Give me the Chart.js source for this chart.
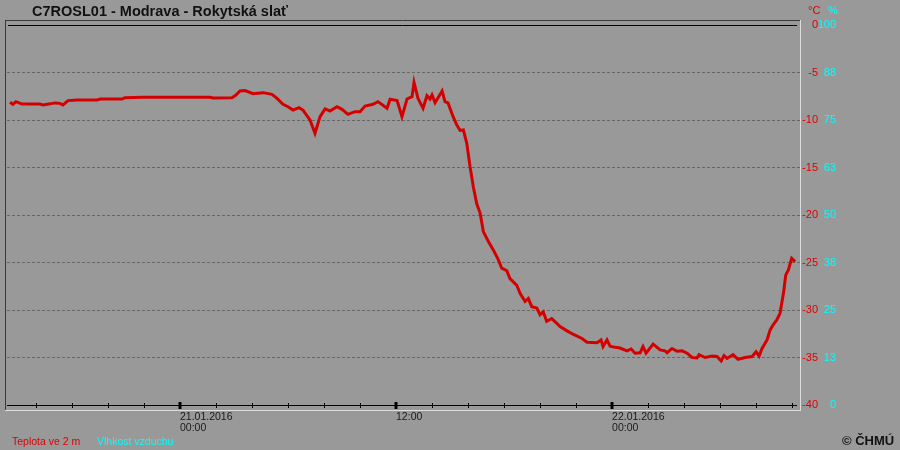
<!DOCTYPE html>
<html>
<head>
<meta charset="utf-8">
<script src="https://cdn.jsdelivr.net/npm/chart.js@4.4.1/dist/chart.umd.min.js"></script>
<style>
  body { margin: 0; background: #999999; }
  #wrap { position: relative; width: 900px; height: 450px; background: #999999; font-family: 'Liberation Sans', Arial, sans-serif; }
  #chart { position: absolute; left: 0; top: 0; }
  .txt { position: absolute; white-space: nowrap; line-height: 1; }
</style>
</head>
<body>
<div id="wrap">
  <canvas id="chart" width="900" height="450"></canvas>
  <div class="txt" style="left:32px; top:4px; font-size:14.5px; font-weight:bold; color:#111;">C7ROSL01 - Modrava - Rokytská slať</div>
  <div class="txt" style="left:808px; top:5px; font-size:11px; color:#e00000;">°C</div>
  <div class="txt" style="left:828px; top:5px; font-size:11px; color:#00ffff;">%</div>
  <div class="txt" style="left:12px; top:436px; font-size:10.5px; color:#e00000;">Teplota ve 2 m</div>
  <div class="txt" style="left:97px; top:436px; font-size:10.5px; color:#00ffff;">Vlhkost vzduchu</div>
  <div class="txt" style="left:842px; top:434px; font-size:13px; font-weight:bold; color:#111;">© ČHMÚ</div>
</div>
<script>
// hours relative to 21.01.2016 00:00
const hours = [
  -9.44, -9.28, -9.11, -8.78, -8.33, -7.78, -7.61, -7.22, -6.94, -6.67,
  -6.5, -6.22, -5.72, -4.61, -4.44, -3.22, -3.06, -2.06, 1.67, 1.83,
  2.89, 3.11, 3.33, 3.61, 4.06, 4.61, 5.11, 5.39, 5.72, 6.0,
  6.28, 6.61, 6.83, 7.22, 7.5, 7.78, 8.06, 8.33, 8.72, 9.0,
  9.33, 9.72, 10.0, 10.28, 10.72, 11.0, 11.5, 11.67, 12.06, 12.33,
  12.61, 12.89, 13.0, 13.22, 13.5, 13.72, 13.89, 14.0, 14.17, 14.56,
  14.72, 14.89, 15.17, 15.37, 15.56, 15.74, 15.93, 16.11, 16.29, 16.48,
  16.67, 16.85, 17.13, 17.41, 17.68, 17.87, 18.15, 18.33, 18.71, 18.89,
  19.17, 19.35, 19.54, 19.82, 20.0, 20.18, 20.37, 20.65, 20.93, 21.11,
  21.5, 21.83, 22.33, 22.61, 23.17, 23.39, 23.5, 23.72, 23.89, 24.17,
  24.44, 24.83, 25.06, 25.28, 25.56, 25.72, 25.89, 26.28, 26.67, 26.94,
  27.06, 27.33, 27.61, 27.89, 28.17, 28.44, 28.72, 28.83, 29.17, 29.56,
  29.83, 30.06, 30.22, 30.39, 30.72, 31.0, 31.39, 31.78, 32.0, 32.17,
  32.33, 32.61, 32.78, 32.94, 33.15, 33.33, 33.52, 33.65, 33.79, 33.98,
  34.17
];
const temperature = [
  -8.14, -8.35, -8.07, -8.32, -8.32, -8.32, -8.42, -8.3, -8.2, -8.25,
  -8.42, -7.96, -7.9, -7.9, -7.79, -7.79, -7.65, -7.6, -7.6, -7.68,
  -7.65, -7.37, -6.95, -6.9, -7.23, -7.12, -7.3, -7.72, -8.35, -8.6,
  -8.95, -8.7, -8.95, -10.0, -11.4, -9.65, -8.84, -9.05, -8.6, -8.88,
  -9.4, -9.12, -9.12, -8.53, -8.35, -8.07, -8.77, -7.82, -7.96, -9.65,
  -7.79, -7.54, -6.04, -7.72, -8.77, -7.44, -7.79, -7.37, -8.18, -6.95,
  -8.07, -8.2, -9.65, -10.5, -11.1, -11.05, -12.45, -14.9, -17.0, -18.8,
  -19.8, -21.75, -22.8, -23.7, -24.7, -25.6, -25.85, -26.7, -27.4, -28.25,
  -29.1, -28.8, -29.65, -29.8, -30.5, -30.2, -31.2, -30.9, -31.4, -31.75,
  -32.2, -32.55, -33.0, -33.4, -33.45, -33.15, -33.85, -33.15, -33.8, -33.93,
  -34.0, -34.3, -34.1, -34.55, -34.5, -33.85, -34.55, -33.6, -34.2, -34.3,
  -34.5, -34.05, -34.35, -34.3, -34.55, -35.0, -35.05, -34.7, -35.0, -34.85,
  -34.9, -35.37, -34.8, -35.1, -34.7, -35.2, -35.0, -34.9, -34.4, -34.85,
  -34.05, -33.15, -32.1, -31.6, -31.05, -30.35, -28.25, -26.3, -25.8, -24.55,
  -24.9
];
const dateLabels = { 0: ['21.01.2016', '00:00'], 12: ['12:00'], 24: ['22.01.2016', '00:00'] };
const tempTicks = [0, -5, -10, -15, -20, -25, -30, -35, -40];
const humidityTicks = [100, 88, 75, 63, 50, 38, 25, 13, 0];

const frame = {
  id: 'frame',
  beforeDatasetsDraw(chart) {
    const { ctx, chartArea: a, scales: { x } } = chart;
    ctx.save();
    ctx.lineCap = 'butt';
    // dark top/left edge
    ctx.strokeStyle = '#3a3a3a';
    ctx.lineWidth = 1;
    ctx.beginPath();
    ctx.moveTo(5, 20.5); ctx.lineTo(a.right, 20.5);
    ctx.moveTo(5.5, 20); ctx.lineTo(5.5, 410);
    ctx.stroke();
    // light bottom/right edge
    ctx.strokeStyle = '#dddddd';
    ctx.beginPath();
    ctx.moveTo(5, 410.5); ctx.lineTo(a.right + 1, 410.5);
    ctx.moveTo(a.right + 0.5, 20); ctx.lineTo(a.right + 0.5, 411);
    ctx.stroke();
    // black lines at 0 and -40
    ctx.strokeStyle = '#000';
    ctx.beginPath();
    ctx.moveTo(a.left + 1, a.top + 0.5); ctx.lineTo(a.right - 3, a.top + 0.5);
    ctx.moveTo(a.left, a.bottom + 0.5); ctx.lineTo(a.right - 3, a.bottom + 0.5);
    ctx.stroke();
    // x ticks crossing the axis
    x.ticks.forEach(t => {
      const px = Math.round(x.getPixelForValue(t.value));
      const major = dateLabels[t.value] !== undefined;
      ctx.lineWidth = major ? 3 : 1;
      ctx.beginPath();
      ctx.moveTo(px + (major ? 0 : 0.5), major ? 402 : 403);
      ctx.lineTo(px + (major ? 0 : 0.5), major ? 409 : 408);
      ctx.stroke();
    });
    ctx.restore();
  }
};

new Chart(document.getElementById('chart'), {
  type: 'line',
  data: {
    datasets: [{
      data: hours.map((h, i) => ({ x: h, y: temperature[i] })),
      borderColor: '#d40000',
      borderWidth: 3,
      pointRadius: 0,
      tension: 0,
      yAxisID: 'y',
    }],
  },
  options: {
    responsive: false,
    animation: false,
    layout: { padding: { left: 7, top: 25, right: 0, bottom: 0 } },
    plugins: { legend: { display: false }, tooltip: { enabled: false } },
    scales: {
      x: {
        type: 'linear',
        min: -9.61,
        max: 34.44,
        afterFit(scale) { scale.height = 45; },
        grid: { display: false, drawTicks: false },
        border: { display: false },
        ticks: {
          stepSize: 2,
          includeBounds: false,
          autoSkip: false,
          maxRotation: 0,
          align: 'start',
          padding: 6,
          color: '#1a1a1a',
          font: { family: 'Liberation Sans', size: 10.5, lineHeight: 1.1 },
          callback: v => dateLabels[v] || '',
        },
      },
      y: {
        position: 'right',
        min: -40,
        max: 0,
        afterFit(scale) { scale.width = 18; },
        afterBuildTicks(scale) { scale.ticks = tempTicks.map(v => ({ value: v })); },
        grid: {
          drawTicks: false,
          color: c => (c.tick && (c.tick.value === 0 || c.tick.value === -40)) ? 'rgba(0,0,0,0)' : '#666666',
          lineWidth: 1,
        },
        border: { display: false, dash: [3, 2] },
        ticks: {
          mirror: true,
          padding: 18,
          color: '#e00000',
          font: { family: 'Liberation Sans', size: 11 },
        },
      },
      y2: {
        position: 'right',
        min: 0,
        max: 100,
        afterFit(scale) { scale.width = 82; },
        afterBuildTicks(scale) {
          scale.ticks = humidityTicks.map(v => ({ value: v === 88 ? 87.5 : v === 63 ? 62.5 : v === 38 ? 37.5 : v === 13 ? 12.5 : v }));
        },
        grid: { display: false, drawTicks: false },
        border: { display: false },
        ticks: {
          mirror: true,
          padding: 18,
          color: '#00ffff',
          font: { family: 'Liberation Sans', size: 11 },
          callback: v => Math.round(v),
        },
      },
    },
  },
  plugins: [frame],
});
</script>
</body>
</html>
